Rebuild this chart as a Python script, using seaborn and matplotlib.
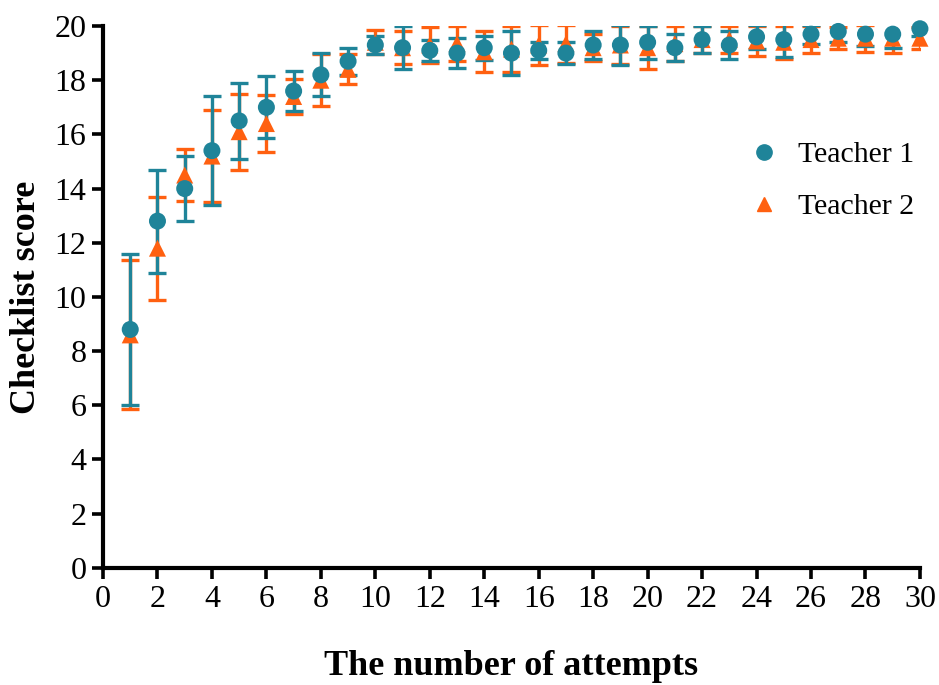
import matplotlib
matplotlib.use("Agg")
import numpy as np
import pandas as pd
import matplotlib.pyplot as plt
import seaborn as sns

# Data (mean and error per attempt)
attempts = list(range(1, 31))
teacher1_mean = [8.8, 12.8, 14.0, 15.4, 16.5, 17.0, 17.6, 18.2, 18.7, 19.3,
                 19.2, 19.1, 19.0, 19.2, 19.0, 19.1, 19.0, 19.3, 19.3, 19.4,
                 19.2, 19.5, 19.3, 19.6, 19.5, 19.7, 19.8, 19.7, 19.7, 19.9]
teacher1_err = [2.8, 1.9, 1.2, 2.0, 1.4, 1.15, 0.75, 0.8, 0.5, 0.35,
                0.8, 0.4, 0.55, 0.45, 0.8, 0.3, 0.4, 0.5, 0.75, 0.6,
                0.5, 0.5, 0.5, 0.45, 0.65, 0.35, 0.4, 0.45, 0.5, 0.25]
teacher2_mean = [8.6, 11.8, 14.5, 15.2, 16.1, 16.4, 17.4, 18.0, 18.4, 19.4,
                 19.2, 19.3, 19.35, 19.05, 19.15, 19.3, 19.35, 19.2, 19.3, 19.2,
                 19.35, 19.5, 19.5, 19.45, 19.4, 19.5, 19.55, 19.55, 19.55, 19.55]
teacher2_err = [2.75, 1.9, 0.95, 1.7, 1.4, 1.05, 0.65, 0.95, 0.55, 0.45,
                0.6, 0.65, 0.65, 0.75, 0.85, 0.75, 0.7, 0.5, 0.7, 0.8,
                0.65, 0.5, 0.5, 0.55, 0.6, 0.5, 0.4, 0.5, 0.55, 0.4]
series_names = ["Teacher 1", "Teacher 2"]

teal = "#1F8499"
orange = "#FF6010"

# teacher 2 rows first so teacher 1 is drawn on top
df = pd.DataFrame({
    "attempt": attempts * 2,
    "score": teacher2_mean + teacher1_mean,
    "err": teacher2_err + teacher1_err,
    "teacher": [series_names[1]] * 30 + [series_names[0]] * 30,
})

sns.set_style("ticks")
plt.rcParams["font.family"] = ["Liberation Serif", "DejaVu Serif"]
plt.rcParams["text.color"] = "black"
plt.rcParams["axes.labelcolor"] = "black"
plt.rcParams["xtick.color"] = "black"
plt.rcParams["ytick.color"] = "black"

fig = plt.figure(figsize=(9.39, 6.85), dpi=100)
ax = fig.add_axes([0.1097, 0.171, 0.8700, 0.791])

# error bars: teacher 2 under teacher 1
for name, color in zip(series_names[::-1], [orange, teal]):
    sub = df[df["teacher"] == name]
    ax.errorbar(sub["attempt"], sub["score"], yerr=sub["err"], fmt="none",
                ecolor=color, elinewidth=2.4, capsize=6.5, capthick=2.4,
                zorder=2)

sns.scatterplot(data=df, x="attempt", y="score", hue="teacher", style="teacher",
                palette={series_names[0]: teal, series_names[1]: orange},
                markers={series_names[0]: "o", series_names[1]: "^"},
                s=150, edgecolor="none", linewidth=0, ax=ax, zorder=3,
                clip_on=False, legend=False)

ax.set_xlim(0, 30)
ax.set_ylim(0, 20)
ax.set_xticks(np.arange(0, 31, 2))
ax.set_yticks(np.arange(0, 21, 2))
ax.tick_params(axis="both", labelsize=23, width=2.6, length=8, color="black",
               labelcolor="black", pad=4)
for side in ["left", "bottom"]:
    ax.spines[side].set_linewidth(3)
    ax.spines[side].set_color("black")
sns.despine(ax=ax)

ax.set_xlabel("The number of attempts", fontsize=26, fontweight="bold",
              labelpad=26, color="black")
ax.set_ylabel("Checklist score", fontsize=26, fontweight="bold", labelpad=8,
              color="black")

handles = [
    plt.Line2D([], [], marker="o", linestyle="none", color=teal, markersize=11),
    plt.Line2D([], [], marker="^", linestyle="none", color=orange, markersize=10),
]
ax.legend(handles, series_names, loc="upper left", bbox_to_anchor=(0.772, 0.815),
          frameon=False, fontsize=21.5, handlelength=1.0, handletextpad=0.65,
          labelspacing=0.85, borderpad=0)

fig.savefig("out.png", dpi=100)
